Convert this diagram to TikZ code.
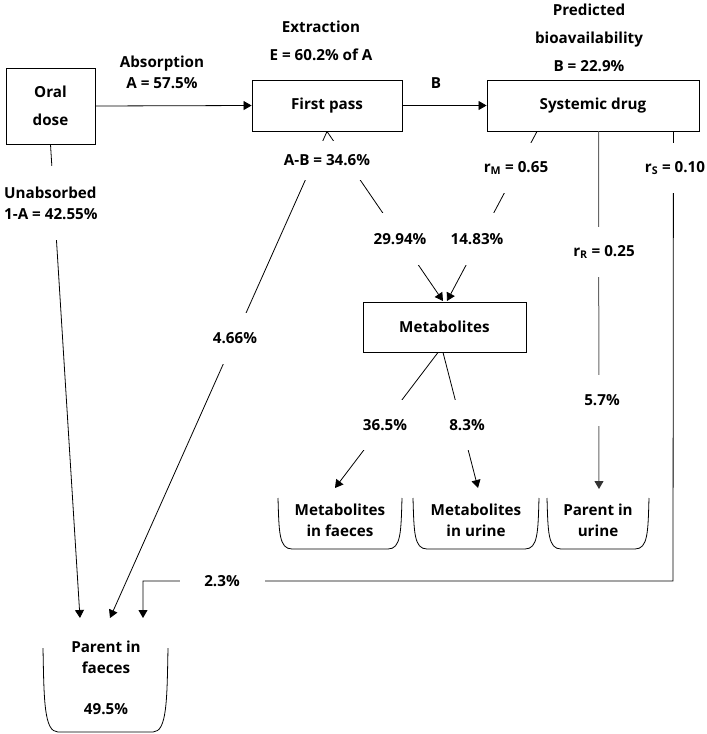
\documentclass[tikz,border=0pt]{standalone}
\usepackage{fontspec}
\setmainfont{Open Sans}
\usetikzlibrary{arrows.meta}
\begin{document}
\begin{tikzpicture}[x=1pt,y=-1pt,
  every node/.style={font=\fontsize{15.2}{21}\selectfont\bfseries, inner sep=0pt},
  box/.style={draw, line width=0.9pt, align=center},
  lab/.style={fill=white, inner xsep=1pt, align=center},
  txt/.style={align=center},
  ln/.style={line width=0.8pt},
  arr/.style={ln, -{Triangle[length=8pt,width=9pt]}},
  grayln/.style={line width=1pt, draw=black!60},
  binline/.style={line width=0.8pt}]
\useasboundingbox (0,0) rectangle (707,734);

% boxes
\node[box, minimum width=89pt, minimum height=76pt] (oral) at (50.5,106) {Oral\\[7pt]dose};
\node[box, minimum width=150pt, minimum height=51pt] (fp) at (327,105.5) {First pass};
\node[box, minimum width=212pt, minimum height=51pt] (sys) at (593,105.5) {Systemic drug};
\node[box, minimum width=163pt, minimum height=50pt] (met) at (444.5,327) {Metabolites};

% free texts
\node[txt] (absn) at (162,72.5) {Absorption\\A = 57.5\%};
\node[txt] (extr) at (321,41) {Extraction\\[7pt]E = 60.2\% of A};
\node[txt] (pred) at (589,38) {Predicted\\[7pt]bioavailability\\[7pt]B = 22.9\%};
\node[txt] (blab) at (436,83) {B};

% bins
\draw[binline] (278,498) .. controls (279,532) and (279,549) .. (292,549) -- (388,549) .. controls (401,549) and (401,532) .. (402,498);
\draw[binline] (413,498) .. controls (414,532) and (414,549) .. (427,549) -- (525,549) .. controls (538,549) and (538,532) .. (539,498);
\draw[binline] (547,498) .. controls (548,532) and (548,549) .. (561,549) -- (635,549) .. controls (648,549) and (648,532) .. (649,498);
\draw[binline] (43,648) .. controls (44,700) and (44,732) .. (58,732) -- (153,732) .. controls (167,732) and (167,700) .. (168,648);
\node[txt] (mf) at (340,520) {Metabolites\\in faeces};
\node[txt] (mu) at (476,520) {Metabolites\\in urine};
\node[txt] (pu) at (598,520) {Parent in\\urine};
\node[txt] (pf) at (106,678) {Parent in\\faeces\\[20pt]49.5\%};

% arrow ends
\coordinate (pfa) at (80,618);
\coordinate (pfb) at (110,618);
\coordinate (pfc) at (143,618);
\coordinate (ma) at (443,301);
\coordinate (mb) at (447,301);
\coordinate (mfa) at (335,488);
\coordinate (mua) at (478,488);
\coordinate (pua) at (599,489);
\coordinate (rsc) at (673,581);
\coordinate (rsd) at (143,581);

% connectors
\draw[arr] (oral.east) -- (fp.west);
\draw[arr] (fp.east) -- (sys.west);
\draw[arr] (oral.south) -- (pfa);
\draw[arr] (fp.south) -- (pfb);
\draw[arr] (fp.south) -- (ma);
\draw[arr] ([xshift=-56pt]sys.south) -- (mb);
\draw[grayln, -{Triangle[length=8pt,width=9pt,color=black!80]}] ([xshift=5.5pt]sys.south) -- (pua);
\draw[arr] ([xshift=-26pt]sys.south east) -- (rsc) -- (rsd) -- (pfc);
\draw[arr] ([xshift=-6.5pt]met.south) -- (mfa);
\draw[arr] ([xshift=-1.5pt]met.south) -- (mua);

% labels on connectors
\node[lab, anchor=west, align=left, minimum height=74pt] (unab) at (3,203) {Unabsorbed\\1-A = 42.55\%};
\node[lab, minimum height=39pt] (ab) at (327,160.5) {A-B = 34.6\%};
\node[lab, minimum height=50pt] (rm) at (516,168) {r\textsubscript{M} = 0.65};
\node[lab, minimum height=50pt] (rs) at (675,168) {r\textsubscript{S} = 0.10};
\node[lab, minimum height=52pt] (p2994) at (400,239) {29.94\%};
\node[lab, minimum height=52pt] (p1483) at (477,239) {14.83\%};
\node[lab, minimum height=51pt] (p466) at (235,338.5) {4.66\%};
\node[lab, minimum height=50pt] (rr) at (604,252) {r\textsubscript{R} = 0.25};
\node[lab, minimum height=51pt] (p57) at (602,400.5) {5.7\%};
\node[lab, minimum height=50pt] (p365) at (385,425) {36.5\%};
\node[lab, minimum height=50pt] (p83) at (467,425) {8.3\%};
\node[lab, minimum width=85pt, minimum height=10pt] (p23) at (222,581) {2.3\%};
\end{tikzpicture}
\end{document}
